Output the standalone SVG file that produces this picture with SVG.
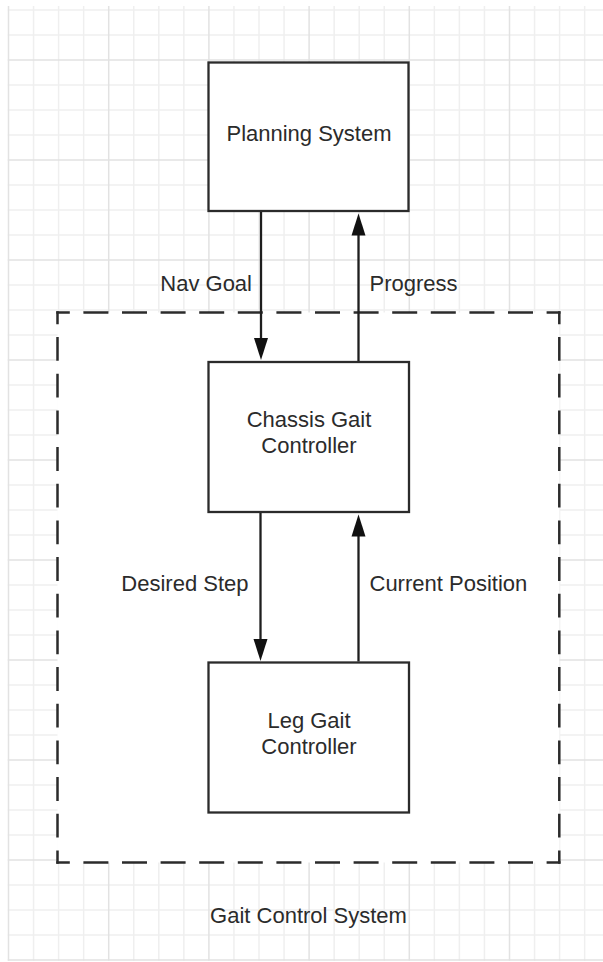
<svg xmlns="http://www.w3.org/2000/svg" width="603" height="962" viewBox="0 0 603 962">
  <style>
    .minor { stroke: #efefef; stroke-width: 1.5; }
    .major { stroke: #e2e2e2; stroke-width: 1.5; }
    .box { fill: #ffffff; stroke: #2b2b2b; stroke-width: 2.3; }
    .label { font-family: "Liberation Sans", Arial, sans-serif; font-size: 22px; fill: #2b2b2b; }
    .mid { text-anchor: middle; }
    .end { text-anchor: end; }
    .wire { fill: none; stroke: #1e1e1e; stroke-width: 2.3; marker-end: url(#arrow); }
    .dashH { fill: none; stroke: #2b2b2b; stroke-width: 2.5; stroke-dasharray: 25 13.6; stroke-dashoffset: 11.5; }
    .dashV { fill: none; stroke: #2b2b2b; stroke-width: 2.5; stroke-dasharray: 23.8 12.87; stroke-dashoffset: 10.9; }
  </style>
  <defs>
    <marker id="arrow" markerUnits="userSpaceOnUse" markerWidth="24" markerHeight="16" viewBox="0 0 24 16" refX="12" refY="8" orient="auto">
      <path d="M0,1 L22,8 L0,15 Z" fill="#111111"/>
    </marker>
  </defs>

  <rect width="603" height="962" fill="#ffffff"/>

  <!-- background grid: 25px cells, heavier line every 4 cells -->
  <g id="grid">
    <g class="minor">
      <line x1="33.55" y1="6" x2="33.55" y2="960.75"/>
      <line x1="58.6" y1="6" x2="58.6" y2="960.75"/>
      <line x1="83.65" y1="6" x2="83.65" y2="960.75"/>
      <line x1="133.75" y1="6" x2="133.75" y2="960.75"/>
      <line x1="158.8" y1="6" x2="158.8" y2="960.75"/>
      <line x1="183.85" y1="6" x2="183.85" y2="960.75"/>
      <line x1="233.95" y1="6" x2="233.95" y2="960.75"/>
      <line x1="259" y1="6" x2="259" y2="960.75"/>
      <line x1="284.05" y1="6" x2="284.05" y2="960.75"/>
      <line x1="334.15" y1="6" x2="334.15" y2="960.75"/>
      <line x1="359.2" y1="6" x2="359.2" y2="960.75"/>
      <line x1="384.25" y1="6" x2="384.25" y2="960.75"/>
      <line x1="434.35" y1="6" x2="434.35" y2="960.75"/>
      <line x1="459.4" y1="6" x2="459.4" y2="960.75"/>
      <line x1="484.45" y1="6" x2="484.45" y2="960.75"/>
      <line x1="534.55" y1="6" x2="534.55" y2="960.75"/>
      <line x1="559.6" y1="6" x2="559.6" y2="960.75"/>
      <line x1="584.65" y1="6" x2="584.65" y2="960.75"/>
      <line x1="7.75" y1="10" x2="603" y2="10"/>
      <line x1="7.75" y1="35" x2="603" y2="35"/>
      <line x1="7.75" y1="85" x2="603" y2="85"/>
      <line x1="7.75" y1="110" x2="603" y2="110"/>
      <line x1="7.75" y1="135" x2="603" y2="135"/>
      <line x1="7.75" y1="185" x2="603" y2="185"/>
      <line x1="7.75" y1="210" x2="603" y2="210"/>
      <line x1="7.75" y1="235" x2="603" y2="235"/>
      <line x1="7.75" y1="285" x2="603" y2="285"/>
      <line x1="7.75" y1="310" x2="603" y2="310"/>
      <line x1="7.75" y1="335" x2="603" y2="335"/>
      <line x1="7.75" y1="385" x2="603" y2="385"/>
      <line x1="7.75" y1="410" x2="603" y2="410"/>
      <line x1="7.75" y1="435" x2="603" y2="435"/>
      <line x1="7.75" y1="485" x2="603" y2="485"/>
      <line x1="7.75" y1="510" x2="603" y2="510"/>
      <line x1="7.75" y1="535" x2="603" y2="535"/>
      <line x1="7.75" y1="585" x2="603" y2="585"/>
      <line x1="7.75" y1="610" x2="603" y2="610"/>
      <line x1="7.75" y1="635" x2="603" y2="635"/>
      <line x1="7.75" y1="685" x2="603" y2="685"/>
      <line x1="7.75" y1="710" x2="603" y2="710"/>
      <line x1="7.75" y1="735" x2="603" y2="735"/>
      <line x1="7.75" y1="785" x2="603" y2="785"/>
      <line x1="7.75" y1="810" x2="603" y2="810"/>
      <line x1="7.75" y1="835" x2="603" y2="835"/>
      <line x1="7.75" y1="885" x2="603" y2="885"/>
      <line x1="7.75" y1="910" x2="603" y2="910"/>
      <line x1="7.75" y1="935" x2="603" y2="935"/>
    </g>
    <g class="major">
      <line x1="8.5" y1="6" x2="8.5" y2="960.75"/>
      <line x1="108.7" y1="6" x2="108.7" y2="960.75"/>
      <line x1="208.9" y1="6" x2="208.9" y2="960.75"/>
      <line x1="309.1" y1="6" x2="309.1" y2="960.75"/>
      <line x1="409.3" y1="6" x2="409.3" y2="960.75"/>
      <line x1="509.5" y1="6" x2="509.5" y2="960.75"/>
      <line x1="7.75" y1="60" x2="603" y2="60"/>
      <line x1="7.75" y1="160" x2="603" y2="160"/>
      <line x1="7.75" y1="260" x2="603" y2="260"/>
      <line x1="7.75" y1="360" x2="603" y2="360"/>
      <line x1="7.75" y1="460" x2="603" y2="460"/>
      <line x1="7.75" y1="560" x2="603" y2="560"/>
      <line x1="7.75" y1="660" x2="603" y2="660"/>
      <line x1="7.75" y1="760" x2="603" y2="760"/>
      <line x1="7.75" y1="860" x2="603" y2="860"/>
      <line x1="7.75" y1="960" x2="603" y2="960"/>
    </g>
  </g>

  <!-- Gait Control System boundary -->
  <g id="gait-control-system">
    <rect x="57.5" y="312.5" width="501.8" height="550" fill="#ffffff"/>
    <path class="dashH" d="M56.3 312.5 H560.5"/>
    <path class="dashH" d="M56.3 862.5 H560.5"/>
    <path class="dashV" d="M57.5 311.3 V863.7"/>
    <path class="dashV" d="M559.3 311.3 V863.7"/>
    <text class="label mid" x="308.5" y="922.5">Gait Control System</text>
  </g>

  <g id="planning-system">
    <rect class="box" x="208.5" y="62.5" width="200" height="148.5"/>
    <text class="label mid" x="309" y="140.5">Planning System</text>
  </g>

  <g id="chassis-gait-controller">
    <rect class="box" x="208.5" y="362" width="200.5" height="150"/>
    <text class="label mid" x="309" y="426.5">Chassis Gait</text>
    <text class="label mid" x="309" y="453">Controller</text>
  </g>

  <g id="leg-gait-controller">
    <rect class="box" x="208.5" y="662.5" width="200.5" height="150"/>
    <text class="label mid" x="309" y="727.5">Leg Gait</text>
    <text class="label mid" x="309" y="754">Controller</text>
  </g>

  <g id="connectors">
    <path class="wire" d="M261 212 V350"/>
    <path class="wire" d="M358.5 361 V223.5"/>
    <path class="wire" d="M260.5 513 V651"/>
    <path class="wire" d="M358.5 661.5 V524.5"/>
    <text class="label end" x="252" y="291">Nav Goal</text>
    <text class="label" x="369.5" y="291">Progress</text>
    <text class="label end" x="248.5" y="590.5">Desired Step</text>
    <text class="label" x="369.5" y="590.5">Current Position</text>
  </g>
</svg>
